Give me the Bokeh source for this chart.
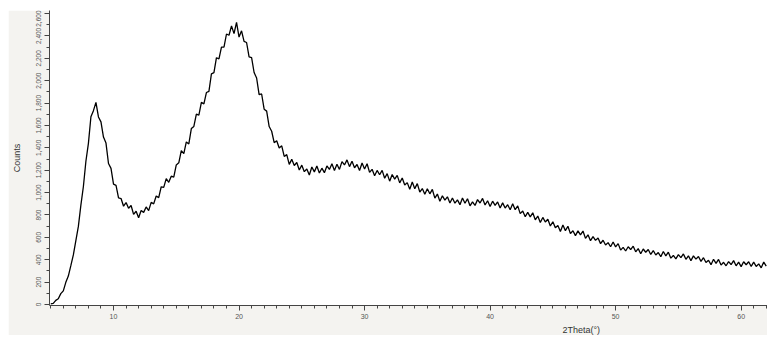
from bokeh.plotting import figure
from bokeh.models import Range1d, SingleIntervalTicker, NumeralTickFormatter, Title
from bokeh.embed import file_html
from bokeh.resources import INLINE

# Scan grid (2Theta, degrees) and counts
THETA_START = 5.0
THETA_STEP = 0.2
counts = [
    6, 10, 37, 52, 97, 122, 198, 254, 347, 443, 570, 698, 888, 1054,
    1280, 1440, 1678, 1732, 1806, 1676, 1632, 1496, 1442, 1260, 1216,
    1076, 1065, 952, 947, 878, 911, 860, 885, 805, 833, 775, 840, 823, 872, 839,
    913, 899, 970, 955, 1052, 1046, 1125, 1092, 1147, 1138,
    1247, 1266, 1375, 1348, 1453, 1435, 1572, 1591, 1701, 1693,
    1806, 1793, 1894, 1905, 2061, 2072, 2205, 2194, 2299, 2299,
    2417, 2406, 2490, 2420, 2520, 2390, 2445, 2351, 2341, 2213,
    2206, 2073, 2024, 1875, 1881,
    1745, 1728, 1590, 1548, 1446, 1463, 1399, 1418, 1323, 1339,
    1252, 1297, 1242, 1269, 1202, 1245, 1187, 1211, 1157, 1229,
    1185, 1238, 1175, 1218, 1178, 1238, 1207, 1258, 1198, 1254,
    1207, 1277, 1247, 1292, 1232, 1280, 1222, 1251, 1197, 1264,
    1210, 1258, 1180, 1208, 1151, 1198, 1159, 1198, 1128, 1169,
    1102, 1162, 1120, 1154, 1087, 1130, 1067, 1089, 1030, 1094,
    1035, 1080, 1005, 1036, 986, 1035, 989, 1028, 951, 987,
    922, 971, 933, 962, 907, 951, 905, 935, 892, 952,
    905, 945, 882, 917, 885, 937, 907, 948, 889, 927,
    875, 923, 885, 916, 862, 908, 862, 892, 847, 900,
    847, 881, 812, 835, 785, 823, 783, 819, 757, 790,
    733, 778, 737, 762, 701, 739, 685, 705, 653, 710,
    660, 699, 633, 659, 615, 658, 622, 656, 591, 623,
    570, 607, 573, 594, 544, 574, 532, 553, 516, 559,
    515, 544, 486, 510, 478, 516, 491, 521, 471, 499,
    454, 496, 467, 491, 447, 482, 442, 464, 427, 474,
    434, 467, 414, 438, 407, 445, 419, 452, 404, 435,
    392, 434, 405, 429, 385, 418, 375, 395, 356, 404,
    367, 403, 352, 377, 346, 383, 357, 392, 346, 379,
    338, 382, 355, 382, 340, 378, 340, 363, 328, 379, 343,
]
theta = [round(THETA_START + THETA_STEP * i, 2) for i in range(len(counts))]

x_title = "2Theta(°)"
y_title = "Counts"

p = figure(width=759, height=325, output_backend="svg", toolbar_location=None,
           margin=(10, 0, 0, 8),
           x_range=Range1d(4.9, 62.1), y_range=Range1d(-9, 2627),
           min_border_left=41, min_border_right=0, min_border_top=0, min_border_bottom=30)

p.line(theta, counts, line_color="black", line_width=1.3)

p.background_fill_color = "white"
p.border_fill_color = "#f4f3f0"
p.outline_line_color = None
p.xgrid.visible = False
p.ygrid.visible = False

FONT = "Liberation Sans"

p.xaxis.ticker = SingleIntervalTicker(interval=10, num_minor_ticks=10)
p.yaxis.ticker = SingleIntervalTicker(interval=200, num_minor_ticks=2)
p.yaxis.formatter = NumeralTickFormatter(format="0,0")

for ax in (p.xaxis[0], p.yaxis[0]):
    ax.axis_line_color = "#444444"
    ax.major_tick_line_color = "#444444"
    ax.minor_tick_line_color = "#444444"
    ax.major_tick_in = 0
    ax.major_tick_out = 5
    ax.minor_tick_in = 0
    ax.minor_tick_out = 3
    ax.major_label_text_font = FONT
    ax.major_label_text_font_size = "7px"
    ax.major_label_text_color = "#555555"
    ax.major_label_standoff = 3

p.yaxis.major_label_text_font_size = "6.5px"
p.yaxis.major_label_orientation = "vertical"
p.yaxis.axis_label = y_title
p.yaxis.axis_label_text_font = FONT
p.yaxis.axis_label_text_font_size = "9px"
p.yaxis.axis_label_text_font_style = "normal"
p.yaxis.axis_label_text_color = "#333333"
p.yaxis.axis_label_standoff = 12

p.add_layout(Title(text=x_title, align="left", offset=513, standoff=2,
                   text_font=FONT, text_font_size="9px", text_font_style="normal",
                   text_color="#333333"), "below")

open("out.html", "w").write(file_html(p, INLINE))
